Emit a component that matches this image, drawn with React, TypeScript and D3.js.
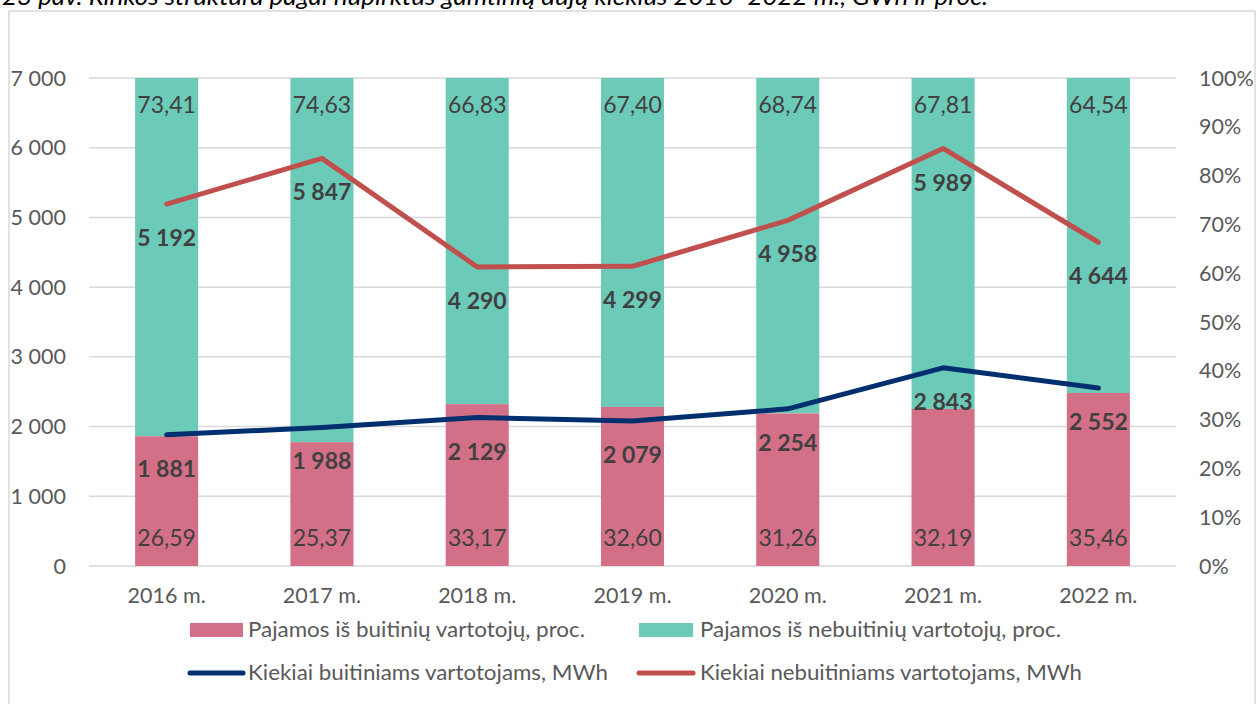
import React from "react";
import * as d3 from "d3";

const years = ["2016 m.", "2017 m.", "2018 m.", "2019 m.", "2020 m.", "2021 m.", "2022 m."];
const pctHousehold = [26.59, 25.37, 33.17, 32.6, 31.26, 32.19, 35.46];
const pctNonHousehold = [73.41, 74.63, 66.83, 67.4, 68.74, 67.81, 64.54];
const qtyHousehold = [1881, 1988, 2129, 2079, 2254, 2843, 2552];
const qtyNonHousehold = [5192, 5847, 4290, 4299, 4958, 5989, 4644];
const leftTicks = [0, 1000, 2000, 3000, 4000, 5000, 6000, 7000];
const rightTicks = [0, 10, 20, 30, 40, 50, 60, 70, 80, 90, 100];

const title = "23 pav. Rinkos struktūra pagal nupirktus gamtinių dujų kiekius 2016–2022 m., GWh ir proc.";
const legendLabels = [
  "Pajamos iš buitinių vartotojų, proc.",
  "Pajamos iš nebuitinių vartotojų, proc.",
  "Kiekiai buitiniams vartotojams, MWh",
  "Kiekiai nebuitiniams vartotojams, MWh",
];

const PINK = "#D46F88";
const TEAL = "#6CCAB9";
const BLUE = "#002F6F";
const RED = "#C0504D";
const GRID = "#D9D9D9";
const AXIS_TXT = "#595959";
const LBL = "#404040";
const FONT = "Lato, 'Open Sans', sans-serif";

export default function App() {
  const left = 89, right = 1176, top = 78, bottom = 566;
  const x = d3.scaleBand<string>().domain(years).range([left, right]).paddingInner(0.594).paddingOuter(0.297);
  const y = d3.scaleLinear().domain([0, 7000]).range([bottom, top]);
  const yp = d3.scaleLinear().domain([0, 100]).range([bottom, top]);
  const cx = (i: number) => (x(years[i]) as number) + x.bandwidth() / 2;
  const fmt = (v: number) => d3.format(",")(v).replace(/,/g, " ");
  const fmtP = (v: number) => v.toFixed(2).replace(".", ",");
  const line = d3.line<number>().x((_, i) => cx(i)).y((d) => y(d));

  return (
    <svg width={1256} height={704} style={{ position: "absolute", left: 0, top: 0 }} fontFamily={FONT}>
      <rect x={0} y={0} width={1256} height={704} fill="#fff" />
      <rect x={9} y={11} width={1246} height={720} fill="#fff" stroke={GRID} strokeWidth={1.5} />
      <text x={2} y={5} fontSize={24} fontStyle="italic" fill="#000" textLength={986} lengthAdjust="spacingAndGlyphs">{title}</text>

      {leftTicks.map((t) => (
        <g key={"g" + t}>
          <line x1={left} x2={right} y1={y(t)} y2={y(t)} stroke={GRID} strokeWidth={1.5} />
          <text x={66} y={y(t)} dy="0.35em" textAnchor="end" fontSize={21.5} fill={AXIS_TXT}>{fmt(t)}</text>
        </g>
      ))}
      {rightTicks.map((t) => (
        <text key={"r" + t} x={1199} y={yp(t)} dy="0.35em" fontSize={21.5} fill={AXIS_TXT}>{t}%</text>
      ))}

      {years.map((yr, i) => (
        <g key={yr}>
          <rect x={x(yr)} y={yp(100)} width={x.bandwidth()} height={yp(pctHousehold[i]) - yp(100)} fill={TEAL} />
          <rect x={x(yr)} y={yp(pctHousehold[i])} width={x.bandwidth()} height={bottom - yp(pctHousehold[i])} fill={PINK} />
          <text x={cx(i)} y={yp(100) + 27} dy="0.35em" textAnchor="middle" fontSize={23} fill={LBL}>{fmtP(pctNonHousehold[i])}</text>
          <text x={cx(i)} y={bottom - 28} dy="0.35em" textAnchor="middle" fontSize={23} fill={LBL}>{fmtP(pctHousehold[i])}</text>
          <text x={cx(i)} y={603} textAnchor="middle" fontSize={21.5} fill={AXIS_TXT}>{yr}</text>
        </g>
      ))}

      <path d={line(qtyNonHousehold) || ""} fill="none" stroke={RED} strokeWidth={5} strokeLinejoin="round" strokeLinecap="round" />
      <path d={line(qtyHousehold) || ""} fill="none" stroke={BLUE} strokeWidth={5} strokeLinejoin="round" strokeLinecap="round" />

      {qtyNonHousehold.map((v, i) => (
        <text key={"nl" + i} x={cx(i)} y={y(v) + 34} dy="0.35em" textAnchor="middle" fontSize={23} fontWeight="bold" fill={LBL}>{fmt(v)}</text>
      ))}
      {qtyHousehold.map((v, i) => (
        <text key={"hl" + i} x={cx(i)} y={y(v) + 34} dy="0.35em" textAnchor="middle" fontSize={23} fontWeight="bold" fill={LBL}>{fmt(v)}</text>
      ))}

      <g fontSize={21} fill={AXIS_TXT}>
        <rect x={190} y={623} width={53} height={14} fill={PINK} />
        <text x={248} y={630} dy="0.35em" textLength={337} lengthAdjust="spacingAndGlyphs">{legendLabels[0]}</text>
        <rect x={639} y={623} width={54} height={14} fill={TEAL} />
        <text x={700} y={630} dy="0.35em" textLength={361} lengthAdjust="spacingAndGlyphs">{legendLabels[1]}</text>
        <line x1={190} x2={243} y1={673} y2={673} stroke={BLUE} strokeWidth={5} strokeLinecap="round" />
        <text x={248} y={673} dy="0.35em" textLength={360} lengthAdjust="spacingAndGlyphs">{legendLabels[2]}</text>
        <line x1={639} x2={693} y1={673} y2={673} stroke={RED} strokeWidth={5} strokeLinecap="round" />
        <text x={700} y={673} dy="0.35em" textLength={382} lengthAdjust="spacingAndGlyphs">{legendLabels[3]}</text>
      </g>
    </svg>
  );
}
